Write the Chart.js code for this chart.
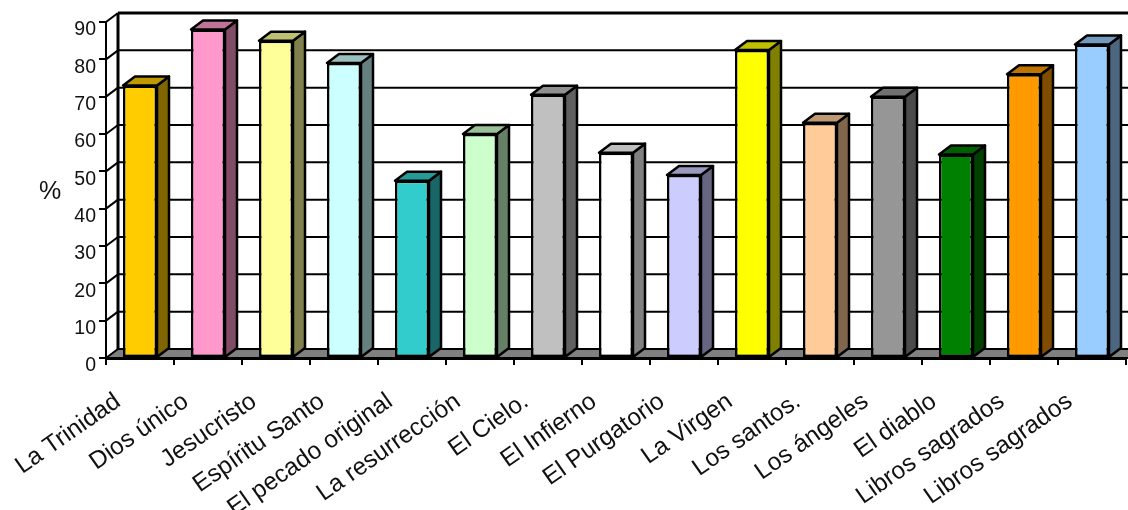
<!DOCTYPE html>
<html>
<head>
<meta charset="utf-8">
<style>
  html, body { margin: 0; padding: 0; background: #fff; overflow: hidden; }
  #wrap { position: relative; width: 1128px; height: 510px; }
</style>
<script src="https://cdn.jsdelivr.net/npm/chart.js@4"></script>
</head>
<body>
<div id="wrap"><canvas id="c" width="1128" height="510"></canvas></div>
<script>
const categories = ["La Trinidad","Dios único","Jesucristo","Espíritu Santo","El pecado original","La resurrección","El Cielo.","El Infierno","El Purgatorio","La Virgen","Los santos.","Los ángeles","El diablo","Libros sagrados","Libros sagrados"];
const percentages = [73,88,85,79,47.5,60,70.5,55,49,82.5,63,70,54.5,76,84];
const barColors = ["#FFCC00","#FF99CC","#FFFF99","#CCFFFF","#33CCCC","#CCFFCC","#C0C0C0","#FFFFFF","#CCCCFF","#FFFF00","#FFCC99","#969696","#008000","#FF9900","#99CCFF"];
const yTicks = [0,10,20,30,40,50,60,70,80,90];

const DEPTH_X = 12, DEPTH_Y = 9;
const INK = "#000";
const FONT = '"Liberation Sans", Arial, sans-serif';

// Darkens a hex colour by a factor, for the shaded faces of each column.
function shade(hex, f) {
  const n = parseInt(hex.slice(1), 16);
  const r = Math.round((n >> 16 & 255) * f);
  const g = Math.round((n >> 8 & 255) * f);
  const b = Math.round((n & 255) * f);
  return `rgb(${r},${g},${b})`;
}

function poly(ctx, pts, fill) {
  ctx.beginPath();
  pts.forEach((p, i) => i ? ctx.lineTo(p[0], p[1]) : ctx.moveTo(p[0], p[1]));
  ctx.closePath();
  if (fill) { ctx.fillStyle = fill; ctx.fill(); }
  ctx.stroke();
}

// Back wall, floor and side wall of the box behind the columns.
const wallsPlugin = {
  id: "walls",
  beforeDatasetsDraw(chart) {
    const { ctx, scales: { x, y } } = chart;
    const left = x.left, right = chart.width + 4;
    const backX = left + DEPTH_X;
    const y0 = y.getPixelForValue(0);
    ctx.save();
    ctx.strokeStyle = INK;
    ctx.lineCap = "butt";

    yTicks.forEach(v => {
      const py = y.getPixelForValue(v);
      if (v > 0) {
        ctx.lineWidth = v === yTicks[yTicks.length - 1] ? 3 : 2;
        ctx.beginPath();
        ctx.moveTo(backX, py - DEPTH_Y);
        ctx.lineTo(right, py - DEPTH_Y);
        ctx.stroke();
        ctx.lineWidth = 2;
        ctx.beginPath();
        ctx.moveTo(left, py);
        ctx.lineTo(backX, py - DEPTH_Y);
        ctx.stroke();
      }
    });

    ctx.lineWidth = 2;
    poly(ctx, [[left, y0], [backX, y0 - DEPTH_Y], [right, y0 - DEPTH_Y], [right, y0]], "#808080");

    ctx.lineWidth = 3;
    ctx.beginPath();
    ctx.moveTo(backX, y.getPixelForValue(90) - DEPTH_Y);
    ctx.lineTo(backX, y0 - DEPTH_Y);
    ctx.stroke();
    ctx.restore();
  },
  // Side and top faces of every column, taken from the bar elements.
  beforeDatasetDraw(chart, args) {
    const { ctx } = chart;
    const bars = chart.getDatasetMeta(args.index).data;
    ctx.save();
    ctx.strokeStyle = INK;
    ctx.lineWidth = 2.5;
    ctx.lineJoin = "round";
    bars.forEach((bar, i) => {
      const p = bar.getProps(["x", "y", "base", "width"], true);
      const l = p.x - p.width / 2, r = p.x + p.width / 2;
      poly(ctx, [[r, p.y], [r + DEPTH_X, p.y - DEPTH_Y], [r + DEPTH_X, p.base - DEPTH_Y], [r, p.base]], shade(barColors[i], 0.5));
      poly(ctx, [[l, p.y], [l + DEPTH_X, p.y - DEPTH_Y], [r + DEPTH_X, p.y - DEPTH_Y], [r, p.y]], shade(barColors[i], 0.75));
    });
    ctx.restore();
  },
  // Value labels sit just under their tick marks, and the unit beside them.
  afterDraw(chart) {
    const { ctx, scales: { y } } = chart;
    ctx.save();
    ctx.fillStyle = "#111";
    ctx.font = "19.5px " + FONT;
    ctx.textAlign = "right";
    ctx.textBaseline = "middle";
    yTicks.forEach(v => ctx.fillText(String(v), 96, y.getPixelForValue(v) + 8));
    ctx.font = "25px " + FONT;
    ctx.textAlign = "center";
    ctx.fillText("%", 50, 192);
    ctx.restore();
  }
};

new Chart(document.getElementById("c"), {
  type: "bar",
  data: {
    labels: categories,
    datasets: [{
      data: percentages,
      backgroundColor: barColors,
      borderColor: INK,
      borderWidth: 2.5,
      borderSkipped: false,
      barPercentage: 0.5,
      categoryPercentage: 1
    }]
  },
  options: {
    responsive: false,
    animation: false,
    layout: { autoPadding: false, padding: { top: 22, right: 2, left: 0, bottom: 0 } },
    plugins: { legend: { display: false }, tooltip: { enabled: false } },
    scales: {
      x: {
        // Long rotated labels may run past the plot edge without narrowing the axis.
        afterFit(s) { s.height = 152; s.paddingLeft = 0; s.paddingRight = 0; },
        grid: { drawOnChartArea: false, color: INK, lineWidth: 2, tickLength: 7, offset: true },
        border: { color: INK, width: 3 },
        ticks: {
          autoSkip: false,
          minRotation: 35,
          maxRotation: 35,
          labelOffset: -22,
          padding: 22,
          color: "#111",
          font: { family: FONT, size: 24.5 }
        }
      },
      y: {
        min: 0,
        max: 90,
        afterFit(s) { s.width = 106; },
        afterBuildTicks(s) { s.ticks = yTicks.map(value => ({ value })); },
        grid: { drawOnChartArea: false, color: INK, lineWidth: 2, tickLength: 7 },
        border: { color: INK, width: 2 },
        ticks: { display: false }
      }
    }
  },
  plugins: [wallsPlugin]
});
</script>
</body>
</html>
